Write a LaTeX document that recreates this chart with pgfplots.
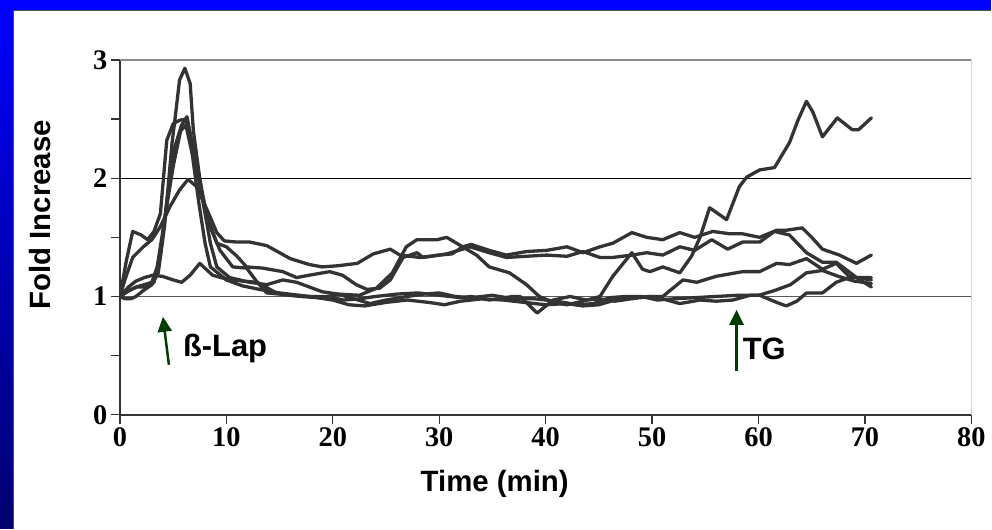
\documentclass[border=0pt]{standalone}
\usepackage{fontspec}
\setmainfont{Liberation Serif}
\newfontfamily\lsans{Liberation Sans}
\usepackage{pgfplots}
\pgfplotsset{compat=1.18}
\usetikzlibrary{arrows.meta}
\definecolor{curve}{HTML}{333333}
\definecolor{arrowgreen}{HTML}{003C00}
\definecolor{frameblue}{HTML}{0000FF}
\definecolor{framenavy}{HTML}{00006E}
\pgfplotsset{trace/.style={draw=curve,solid,line width=3.3bp,line join=round,line cap=round,mark=none}}

\begin{document}
\begin{tikzpicture}[x=1bp,y=1bp]
% slide background and blue frame
\fill[white] (0,0) rectangle (992,529);
\shade[top color=frameblue,bottom color=framenavy] (0,0) rectangle (13,529);
\fill[frameblue] (0,519) rectangle (992,529);
\draw[black!70,line width=1.2bp] (13.6,0) -- (13.6,518.4) -- (992,518.4);

\begin{axis}[
  at={(120bp,114bp)}, anchor=south west,
  width=852bp, height=355bp, scale only axis,
  xmin=0, xmax=80, ymin=0, ymax=3,
  xtick={0,10,...,80}, ytick={0,1,2,3}, minor ytick={0.5,1.5,2.5},
  axis x line*=bottom, axis y line*=left,
  axis line style={draw=black!80,line width=1.8bp},
  tick style={draw=black!80,line width=1.3bp},
  tick align=outside, major tick length=9bp, minor tick length=9bp,
  tick label style={font=\fontsize{28.5}{28.5}\selectfont\bfseries},
  /pgf/number format/assume math mode=true,
]
\draw[black!45,line width=1.2bp] (rel axis cs:0,1) -- (rel axis cs:1,1) -- (rel axis cs:1,0);
\draw[black,line width=1bp] (axis cs:0,2) -- (axis cs:80,2);
\draw[black!65,line width=1.4bp] (axis cs:0,1) -- (axis cs:80,1);

% 1.98 peak, upper track later
\addplot[trace] coordinates {
 (0,1.00) (0.5,1.15) (1.2,1.33) (2.2,1.42) (3,1.48) (3.8,1.59) (4.7,1.76) (5.6,1.90)
 (6.4,1.99) (7.2,1.93) (8.2,1.73) (9.1,1.54) (9.8,1.47) (11,1.46) (12.2,1.46) (13.8,1.43)
 (15,1.37) (16,1.32) (17.8,1.27) (19,1.25) (20.5,1.26) (22.3,1.28) (23.8,1.36) (25.4,1.40)
 (26.3,1.35) (28.2,1.33) (30,1.35) (31.2,1.36) (32.2,1.42) (33,1.44) (34.7,1.39) (36.3,1.35)
 (38.2,1.38) (40.1,1.39) (42,1.42) (43.5,1.37) (45.1,1.42) (46.3,1.45) (48.1,1.54) (49.5,1.50)
 (51,1.48) (52.6,1.54) (54,1.50) (55.7,1.55) (57.3,1.53) (58.5,1.53) (60.1,1.50) (61.7,1.56)
 (62.6,1.56) (64.1,1.58) (65,1.50) (66,1.40) (67.6,1.35) (69.2,1.28) (70.6,1.35)
};
% 2.5 plateau with early shoulder
\addplot[trace] coordinates {
 (0,1.00) (0.6,1.30) (1.2,1.55) (2,1.52) (2.6,1.48) (3.2,1.55) (3.8,1.70) (4.4,2.32)
 (5,2.46) (5.6,2.49) (6.2,2.50) (6.8,2.25) (7.5,1.95) (8.3,1.65) (9.1,1.45) (10,1.42)
 (11,1.34) (11.9,1.25) (13.4,1.24) (15.3,1.21) (16.6,1.16) (17.8,1.18) (19.7,1.21) (20.9,1.18)
 (22.2,1.10) (23.2,1.06) (24.4,1.07) (25.4,1.14) (26.6,1.33) (27.9,1.37) (28.5,1.33) (30.7,1.36)
 (32.2,1.40) (32.9,1.42) (34.7,1.37) (36.3,1.33) (38.2,1.34) (40.1,1.35) (42,1.34) (43.5,1.38)
 (45.1,1.33) (46.3,1.33) (48.1,1.35) (49.5,1.37) (51,1.35) (52.6,1.42) (54,1.39) (55.6,1.48)
 (57.1,1.40) (58.5,1.46) (60.1,1.46) (61.5,1.55) (62.9,1.52) (64.5,1.37) (66,1.29) (67.3,1.29)
 (69.2,1.16) (70.6,1.08)
};
% 2.93 peak
\addplot[trace] coordinates {
 (0,1.00) (0.5,0.98) (1,0.98) (1.5,1.00) (2.2,1.05) (3,1.10) (3.6,1.20) (4.2,1.60)
 (4.9,2.30) (5.2,2.52) (5.6,2.83) (6.1,2.93) (6.6,2.80) (6.9,2.40) (7.5,2.00) (8.2,1.65)
 (9.4,1.39) (10.6,1.25) (11.9,1.24) (12.9,1.12) (13.8,1.03) (15,1.02) (17,1.00) (18.5,0.99)
 (20,0.97) (21.5,0.93) (23,0.92) (25,0.95) (27,0.97) (29,0.95) (30.5,0.93) (32,0.96)
 (34,0.98) (36,0.97) (38,0.95) (40,0.93) (42,0.94) (43.5,0.92) (45,0.93) (46.5,0.97)
 (48,0.99) (49.8,1.00) (51,1.00) (52.9,1.14) (54.2,1.12) (56,1.17) (58.5,1.21) (60.1,1.21)
 (61.7,1.28) (62.9,1.27) (64.5,1.32) (66,1.23) (67.3,1.28) (68.5,1.17) (70.6,1.14)
};
% 2.52 peak, hump at 30 min, then the late rise
\addplot[trace] coordinates {
 (0,1.00) (0.8,1.05) (1.6,1.08) (2.6,1.08) (3.2,1.12) (3.8,1.35) (4.4,1.80) (5.1,2.25)
 (5.8,2.45) (6.3,2.52) (7,2.20) (7.8,1.80) (8.5,1.45) (9.1,1.25) (10.3,1.16) (12.2,1.12)
 (13.8,1.10) (15.3,1.14) (16.6,1.12) (17.8,1.08) (19,1.04) (20.5,1.02) (22.5,1.01) (24.1,1.07)
 (25.6,1.20) (26.9,1.42) (27.9,1.48) (29.8,1.48) (30.7,1.50) (32.2,1.42) (33.5,1.35) (34.7,1.25)
 (36.6,1.20) (38.2,1.10) (39.4,1.00) (40.7,0.95) (42,0.93) (43.5,0.96) (45.1,1.00) (46.3,1.17)
 (48.1,1.37) (49.1,1.23) (49.8,1.21) (51,1.25) (52.6,1.20) (53.7,1.34) (54.5,1.50) (55.4,1.75)
 (57,1.65) (58.2,1.93) (58.9,2.01) (60.1,2.07) (61.5,2.09) (62.9,2.30) (63.7,2.49) (64.5,2.65)
 (65.1,2.56) (66,2.35) (67.4,2.51) (68.8,2.41) (69.4,2.41) (70.6,2.51)
};
% 2.45 peak, low track later
\addplot[trace] coordinates {
 (0,1.00) (0.7,1.04) (1.5,1.08) (2.3,1.10) (3,1.12) (3.5,1.25) (4.2,1.65) (5,2.10)
 (5.7,2.40) (6.2,2.45) (6.8,2.20) (7.4,1.80) (8,1.45) (8.5,1.25) (10,1.14) (11.5,1.09)
 (13.1,1.06) (15,1.03) (17.8,1.00) (19.5,1.00) (21,0.97) (22.5,0.98) (24,1.00) (26,1.02)
 (28,1.03) (30,1.01) (32,0.99) (33,1.00) (34.7,0.97) (36.9,1.00) (37.6,1.00) (39.2,0.86)
 (40.7,0.97) (42.3,1.00) (43.8,0.97) (45.1,0.98) (46.5,0.96) (48,0.98) (49.8,1.00) (51,0.98)
 (52.6,0.94) (54.5,0.97) (56,0.96) (57.6,0.97) (59.2,1.01) (60.1,1.01) (61.7,0.95) (62.6,0.92)
 (63.6,0.96) (64.5,1.03) (66,1.03) (67.3,1.12) (68.5,1.16) (70.6,1.16)
};
% low responder
\addplot[trace] coordinates {
 (0,1.00) (0.8,1.08) (1.5,1.13) (2.3,1.16) (3.1,1.18) (4,1.17) (5,1.14) (5.8,1.12)
 (6.6,1.18) (7.5,1.28) (8.7,1.18) (9.9,1.15) (11.5,1.13) (12.9,1.12) (14.7,1.03) (16,1.01)
 (17.8,1.00) (19,0.99) (20.5,1.02) (22,0.98) (23.5,0.94) (25,0.97) (27,1.00) (28.5,1.02)
 (30,1.03) (31.5,1.00) (33,0.99) (35,1.01) (37,0.98) (39,0.98) (41,0.96) (43,0.93)
 (44.5,0.94) (46,0.99) (47.5,1.00) (49,1.00) (50.5,0.97) (52,0.98) (54,0.99) (56,1.00)
 (58,1.01) (60,1.01) (61.5,1.05) (63,1.10) (64.5,1.20) (66,1.22) (67.5,1.17) (69,1.13)
 (70.6,1.11)
};
\end{axis}

% axis titles
\node[rotate=90,font=\lsans\bfseries\fontsize{29.5}{29.5}\selectfont] at (40,314) {Fold Increase};
\node[anchor=base,font=\lsans\bfseries\fontsize{29.5}{29.5}\selectfont] at (495,37) {Time (min)};

% stimulus arrows
\draw[arrowgreen,line width=2.5bp,-{Triangle[length=15bp,width=14bp]}] (169,164) -- (163,212);
\node[anchor=base west,inner sep=0pt,font=\lsans\bfseries\fontsize{31}{31}\selectfont] at (183,172) {ß-Lap};
\draw[arrowgreen,line width=2.5bp,-{Triangle[length=15bp,width=14bp]}] (737,158) -- (737,219);
\node[anchor=base west,inner sep=0pt,font=\lsans\bfseries\fontsize{31}{31}\selectfont] at (743,169) {TG};
\end{tikzpicture}
\end{document}
